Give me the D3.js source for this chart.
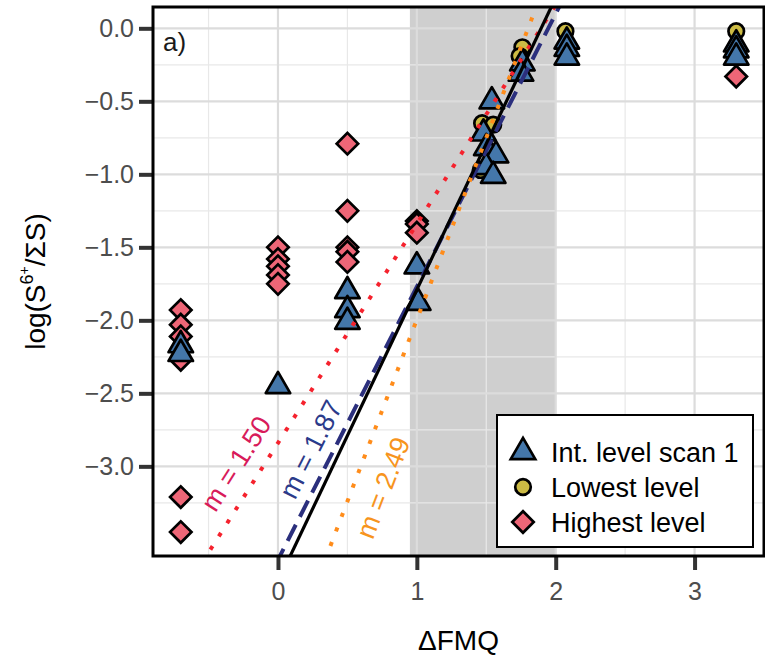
<!DOCTYPE html>
<html>
<head>
<meta charset="utf-8">
<script src="https://cdn.jsdelivr.net/npm/d3@7"></script>
<style>
  body { margin: 0; background: #fff; }
  svg { font-family: "Liberation Sans", Arial, Helvetica, sans-serif; }
</style>
</head>
<body>
<div id="chart"></div>
<script>
// ---- data ----
const intLevelX = [-0.7, -0.7, 0, 0.5, 0.5, 0.5, 1, 1.01, 1.54, 1.48, 1.5, 1.57, 1.5, 1.55, 1.76, 1.75, 2.08, 2.08, 2.08, 3.3, 3.3, 3.3]
const intLevelY = [-2.17, -2.23, -2.45, -1.8, -1.93, -2.01, -1.63, -1.88, -0.5, -0.72, -0.82, -0.87, -0.95, -1.01, -0.24, -0.31, -0.09, -0.14, -0.2, -0.11, -0.15, -0.2]

const lowestX = [1.47, 1.55, 1.46, 1.76, 1.74, 2.07, 3.3]
const lowestY = [-0.65, -0.66, -0.97, -0.13, -0.19, -0.02, -0.02]

const highestX = [-0.7, -0.7, -0.7, -0.7, -0.7, -0.7, 0, 0, 0, 0, 0, 0.5, 0.5, 0.5, 0.5, 0.5, 1, 1, 1, 3.3]
const highestY = [-1.93, -2.03, -2.11, -2.27, -3.21, -3.45, -1.5, -1.58, -1.63, -1.69, -1.75, -0.79, -1.25, -1.5, -1.53, -1.6, -1.32, -1.34, -1.4, -0.33]

// fitted lines: slope, intercept, label and label centre
const fitSlopes = [1.5, 1.87, 2.0, 2.49]
const fitIntercepts = [-2.84, -3.64, -3.79, -4.485]
const fitLabels = ["m = 1.50", "m = 1.87", null, "m = 2.49"]
const fitLabelX = [-0.27, 0.27, null, 0.71]
const fitLabelY = [-3.0, -2.9, null, -3.13]

const xTicks = [0, 1, 2, 3]
const yTicks = [0, -0.5, -1, -1.5, -2, -2.5, -3]
const shadeRange = [0.95, 2.0]

const seriesNames = ["Int. level scan 1", "Lowest level", "Highest level"]
// ----------------------------------

const width = 765, height = 660
const margin = {top: 7, right: 1, bottom: 104, left: 153}

const x = d3.scaleLinear().domain([-0.9, 3.5]).range([margin.left, width - margin.right])
const y = d3.scaleLinear().domain([-3.614, 0.146]).range([height - margin.bottom, margin.top])

const svg = d3.select("#chart").append("svg")
  .attr("width", width)
  .attr("height", height)

svg.append("defs").append("clipPath").attr("id", "panel")
  .append("rect")
  .attr("x", margin.left).attr("y", margin.top)
  .attr("width", x.range()[1] - margin.left)
  .attr("height", y.range()[0] - margin.top)

// shaded band
svg.append("rect")
  .attr("x", x(shadeRange[0]))
  .attr("y", margin.top)
  .attr("width", x(shadeRange[1]) - x(shadeRange[0]))
  .attr("height", y.range()[0] - margin.top)
  .attr("fill", "#cfcfcf")

// grid
const grid = svg.append("g").attr("clip-path", "url(#panel)")
const xMinor = d3.range(-0.5, 3.6, 1)
const yMinor = d3.range(-0.25, -3.6, -0.5)
grid.selectAll(".xminor").data(xMinor).join("line")
  .attr("x1", d => x(d)).attr("x2", d => x(d))
  .attr("y1", margin.top).attr("y2", y.range()[0])
  .attr("stroke", "#e8e8e8").attr("stroke-width", 1.2)
grid.selectAll(".yminor").data(yMinor).join("line")
  .attr("y1", d => y(d)).attr("y2", d => y(d))
  .attr("x1", margin.left).attr("x2", x.range()[1])
  .attr("stroke", "#e8e8e8").attr("stroke-width", 1.2)
grid.selectAll(".xmajor").data(xTicks).join("line")
  .attr("x1", d => x(d)).attr("x2", d => x(d))
  .attr("y1", margin.top).attr("y2", y.range()[0])
  .attr("stroke", "#dcdcdc").attr("stroke-width", 2.2)
grid.selectAll(".ymajor").data(yTicks).join("line")
  .attr("y1", d => y(d)).attr("y2", d => y(d))
  .attr("x1", margin.left).attr("x2", x.range()[1])
  .attr("stroke", "#dcdcdc").attr("stroke-width", 2.2)

// points: diamonds, then circles, then triangles
const blue = "#4477AA", yellow = "#CCBB44", pink = "#EE6677"
const triSym = d3.symbol().type(d3.symbolTriangle).size(260)
const cirSym = d3.symbol().type(d3.symbolCircle).size(190)
const diaSym = d3.symbol().type(d3.symbolSquare).size(230)

const pts = svg.append("g").attr("clip-path", "url(#panel)")
pts.selectAll(".dia").data(d3.zip(highestX, highestY)).join("path")
  .attr("d", diaSym)
  .attr("transform", d => `translate(${x(d[0])},${y(d[1])}) rotate(45)`)
  .attr("fill", pink).attr("stroke", "#000").attr("stroke-width", 2.7)
pts.selectAll(".cir").data(d3.zip(lowestX, lowestY)).join("path")
  .attr("d", cirSym)
  .attr("transform", d => `translate(${x(d[0])},${y(d[1])})`)
  .attr("fill", yellow).attr("stroke", "#000").attr("stroke-width", 2.7)
pts.selectAll(".tri").data(d3.zip(intLevelX, intLevelY)).join("path")
  .attr("d", triSym)
  .attr("transform", d => `translate(${x(d[0])},${y(d[1])})`)
  .attr("fill", blue).attr("stroke", "#000").attr("stroke-width", 2.7)
  .attr("stroke-linejoin", "round")

// fit lines
const lineStyles = [
  {color: "#f5222d", dash: "0.1 15.5", width: 4, cap: "square", text: "#d81b5a", dy: "0.15em"},
  {color: "#2b2f7d", dash: "18 9", width: 4, cap: "butt", text: "#2b3a8a", dy: "0.15em"},
  {color: "#000000", dash: null, width: 3.2, cap: "butt", text: null, dy: null},
  {color: "#ff8c1a", dash: "0.1 15.5", width: 4, cap: "square", text: "#f7941d", dy: "0.6em"}
]
const lines = svg.append("g").attr("clip-path", "url(#panel)")
const x0 = x.domain()[0], x1 = x.domain()[1]
fitSlopes.forEach((m, i) => {
  const b = fitIntercepts[i]
  const st = lineStyles[i]
  lines.append("line")
    .attr("x1", x(x0)).attr("y1", y(m * x0 + b))
    .attr("x2", x(x1)).attr("y2", y(m * x1 + b))
    .attr("stroke", st.color)
    .attr("stroke-width", st.width)
    .attr("stroke-linecap", st.cap)
    .attr("stroke-dasharray", st.dash)
})

// slope labels, rotated along their line
fitLabels.forEach((lab, i) => {
  if (!lab) return
  const m = fitSlopes[i]
  const ang = Math.atan2(y(m) - y(0), x(1) - x(0)) * 180 / Math.PI
  svg.append("text")
    .attr("transform", `translate(${x(fitLabelX[i])},${y(fitLabelY[i])}) rotate(${ang})`)
    .attr("text-anchor", "middle")
    .attr("dy", lineStyles[i].dy)
    .attr("fill", lineStyles[i].text)
    .attr("font-size", 27)
    .text(lab)
})

// panel label
svg.append("text")
  .attr("x", margin.left + 10).attr("y", margin.top + 44)
  .attr("font-size", 26).attr("fill", "#1a1a1a")
  .text("a)")

// axes
const axX = svg.append("g").attr("transform", `translate(0,${y.range()[0]})`)
  .call(d3.axisBottom(x).tickValues(xTicks).tickFormat(d3.format("d")).tickSize(14).tickPadding(12))
axX.select(".domain").remove()
axX.selectAll(".tick line").attr("stroke", "#333").attr("stroke-width", 4)
axX.selectAll(".tick text").attr("fill", "#4d4d4d").attr("font-size", 25).attr("font-family", null)

const axY = svg.append("g").attr("transform", `translate(${margin.left},0)`)
  .call(d3.axisLeft(y).tickValues(yTicks).tickFormat(d => d3.format(".1f")(d).replace("-", "\u2212")).tickSize(14).tickPadding(5))
axY.select(".domain").remove()
axY.selectAll(".tick line").attr("stroke", "#333").attr("stroke-width", 4)
axY.selectAll(".tick text").attr("fill", "#4d4d4d").attr("font-size", 25).attr("font-family", null)

// panel border
svg.append("rect")
  .attr("x", margin.left).attr("y", margin.top)
  .attr("width", x.range()[1] - margin.left)
  .attr("height", y.range()[0] - margin.top)
  .attr("fill", "none").attr("stroke", "#000").attr("stroke-width", 3)

// axis titles
svg.append("text")
  .attr("x", (margin.left + x.range()[1]) / 2).attr("y", 650)
  .attr("text-anchor", "middle").attr("font-size", 28).attr("fill", "#000")
  .text("\u0394FMQ")

const yt = svg.append("text")
  .attr("transform", `translate(45,${(margin.top + y.range()[0]) / 2}) rotate(-90)`)
  .attr("text-anchor", "middle").attr("font-size", 28).attr("fill", "#000")
yt.append("tspan").text("log(S")
yt.append("tspan").attr("font-size", 18).attr("dy", -12).text("6")
yt.append("tspan").attr("font-size", 14).attr("dy", -4).text("+")
yt.append("tspan").attr("dy", 16).text("/\u03a3S)")

// legend
const lg = svg.append("g").attr("transform", "translate(497,415)")
lg.append("rect").attr("width", 256).attr("height", 132)
  .attr("fill", "#fff").attr("stroke", "#000").attr("stroke-width", 2)
const legSyms = [triSym, cirSym, diaSym]
const legFills = [blue, yellow, pink]
seriesNames.forEach((name, i) => {
  const cy = 37 + i * 35
  lg.append("path")
    .attr("d", legSyms[i])
    .attr("transform", `translate(26,${cy})${i === 2 ? " rotate(45)" : ""}`)
    .attr("fill", legFills[i]).attr("stroke", "#000").attr("stroke-width", 2.7)
  lg.append("text")
    .attr("x", 54).attr("y", cy).attr("dy", "0.36em")
    .attr("font-size", 27).attr("fill", "#000")
    .text(name)
})
</script>
</body>
</html>
